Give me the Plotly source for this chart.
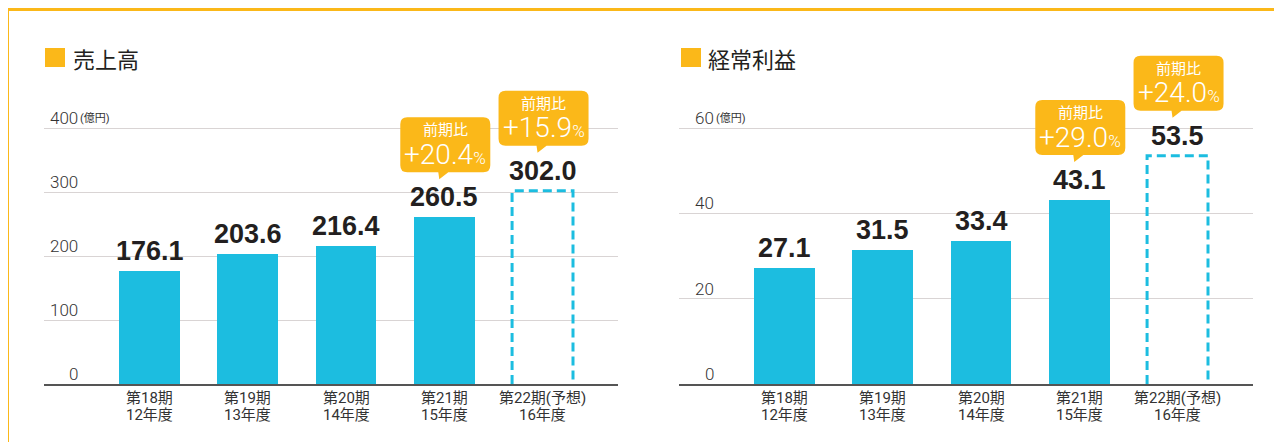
import plotly.graph_objects as go

# ---------------- data ----------------
periods = ["第18期", "第19期", "第20期", "第21期", "第22期(予想)"]
fiscal_years = ["12年度", "13年度", "14年度", "15年度", "16年度"]

sales = [176.1, 203.6, 216.4, 260.5, 302.0]          # 売上高 (億円)
ordinary_profit = [27.1, 31.5, 33.4, 43.1, 53.5]     # 経常利益 (億円)

sales_growth = {3: "+20.4", 4: "+15.9"}              # 前期比 %
profit_growth = {3: "+29.0", 4: "+24.0"}

sales_ticks = [0, 100, 200, 300, 400]
profit_ticks = [0, 20, 40, 60]

forecast_index = 4

# ---------------- style ----------------
W, H = 1282, 442
OFF = 8  # page body margin
BLUE = "#1cbde0"
YELLOW = "#fbb819"
DARK = "#231f20"
TXT = "#333333"
GRID = "#d9d4d4"
JP = "Roboto, 'Noto Sans CJK JP', sans-serif"
BOLD = "'Liberation Sans', Arial, sans-serif"
BAR_W = 0.62
XRANGE = [-1.074, 4.768]

# plot area: value 0 at pixel 384, top tick at pixel 128, domain extends to pixel 40
Y0_PX, YTOP_PX, YDOM_TOP_PX = 384, 128, 40


def px_x(p):
    return (p - OFF) / W


def px_y(p):
    return (H - (p - OFF)) / H


def y_range(top_tick):
    per_px = top_tick / (Y0_PX - YTOP_PX)
    return [0, top_tick + per_px * (YTOP_PX - YDOM_TOP_PX)]


fig = go.Figure()

panels = [
    dict(vals=sales, ticks=sales_ticks, growth=sales_growth, xa="x", ya="y",
         title="売上高", title_px=71, sq_px=45, tick_right=80),
    dict(vals=ordinary_profit, ticks=profit_ticks, growth=profit_growth, xa="x2", ya="y2",
         title="経常利益", title_px=706, sq_px=681, tick_right=716),
]

annotations = []
shapes = []

# outer yellow frame
shapes.append(dict(type="rect", xref="paper", yref="paper",
                   x0=px_x(7.5), x1=1.05, y0=-0.1, y1=px_y(9.5),
                   line=dict(color=YELLOW, width=3), fillcolor="rgba(0,0,0,0)", layer="below"))

for p in panels:
    vals = p["vals"]
    actual_x = [i for i in range(len(vals)) if i != forecast_index]
    actual_y = [vals[i] for i in actual_x]
    fig.add_trace(go.Bar(x=actual_x, y=actual_y, width=BAR_W, marker=dict(color=BLUE, line=dict(width=0)),
                         xaxis=p["xa"], yaxis=p["ya"], showlegend=False, hoverinfo="x+y"))
    # forecast bar: dashed outline
    fx = forecast_index
    fv = vals[fx]
    fig.add_trace(go.Scatter(x=[fx - BAR_W / 2, fx - BAR_W / 2, fx + BAR_W / 2, fx + BAR_W / 2],
                             y=[0, fv, fv, 0], mode="lines",
                             line=dict(color=BLUE, width=3, dash="9px,5px"),
                             xaxis=p["xa"], yaxis=p["ya"], showlegend=False, hoverinfo="skip"))

    # value labels
    for i, v in enumerate(vals):
        annotations.append(dict(x=i, y=v, xref=p["xa"], yref=p["ya"], text=f"{v:.1f}",
                                showarrow=False, yanchor="middle", xanchor="center", yshift=20,
                                font=dict(family=BOLD, size=27, color=DARK, weight="bold")))

    # growth callouts
    for i, g in p["growth"].items():
        v = vals[i]
        x0, x1, y0, y1, r = -44, 46, 45, 100, 7
        path = (f"M {x0 + r},{y1} L {x1 - r},{y1} Q {x1},{y1} {x1},{y1 - r} "
                f"L {x1},{y0 + r} Q {x1},{y0} {x1 - r},{y0} L 4,{y0} L -5,38 L -6,{y0} "
                f"L {x0 + r},{y0} Q {x0},{y0} {x0},{y0 + r} L {x0},{y1 - r} Q {x0},{y1} {x0 + r},{y1} Z")
        shapes.append(dict(type="path", xref=p["xa"], yref=p["ya"], xsizemode="pixel", ysizemode="pixel",
                           xanchor=i, yanchor=v, path=path, fillcolor=YELLOW, line=dict(width=0)))
        annotations.append(dict(x=i, y=v, xref=p["xa"], yref=p["ya"], text="前期比",
                                showarrow=False, yanchor="middle", xanchor="center", yshift=87, xshift=1,
                                font=dict(family=JP, size=15, color="white")))
        annotations.append(dict(x=i, y=v, xref=p["xa"], yref=p["ya"],
                                text=f"{g}<span style='font-size:17px'>%</span>",
                                showarrow=False, yanchor="middle", xanchor="center", yshift=63, xshift=1,
                                font=dict(family=JP, size=28, color="white", weight=300)))

    # y tick labels (left of plot, above gridlines)
    for t in p["ticks"]:
        annotations.append(dict(x=px_x(p["tick_right"]), y=t, xref="paper", yref=p["ya"], text=str(t),
                                showarrow=False, xanchor="right", yanchor="middle", yshift=10,
                                font=dict(family=JP, size=17, color=TXT, weight=300)))
    annotations.append(dict(x=px_x(p["tick_right"]), y=p["ticks"][-1], xref="paper", yref=p["ya"],
                            text="(億円)", showarrow=False, xanchor="left", yanchor="middle", yshift=9,
                            xshift=-2, font=dict(family=JP, size=11, color=TXT)))

    # x category labels (two lines)
    for i in range(len(vals)):
        annotations.append(dict(x=i, y=px_y(398), xref=p["xa"], yref="paper", text=periods[i],
                                showarrow=False, xanchor="center", yanchor="middle",
                                font=dict(family=JP, size=15, color=TXT)))
        annotations.append(dict(x=i, y=px_y(414.5), xref=p["xa"], yref="paper", text=fiscal_years[i],
                                showarrow=False, xanchor="center", yanchor="middle",
                                font=dict(family=JP, size=15, color=TXT)))

    # panel title with square marker
    shapes.append(dict(type="rect", xref="paper", yref="paper",
                       x0=px_x(p["sq_px"]), x1=px_x(p["sq_px"] + 20), y0=px_y(67), y1=px_y(48),
                       fillcolor=YELLOW, line=dict(width=0)))
    annotations.append(dict(x=px_x(p["title_px"]), y=px_y(57.5), xref="paper", yref="paper", text=p["title"],
                            showarrow=False, xanchor="left", yanchor="middle",
                            font=dict(family="'Noto Sans CJK JP', sans-serif", size=22, color=DARK)))

ydom = [px_y(Y0_PX), px_y(YDOM_TOP_PX)]
axis_common = dict(showgrid=False, zeroline=False, showticklabels=False, ticks="", fixedrange=True)

fig.update_layout(
    width=W, height=H,
    margin=dict(l=0, r=0, t=0, b=0),
    paper_bgcolor="white", plot_bgcolor="rgba(0,0,0,0)",
    bargap=0,
    xaxis=dict(domain=[px_x(44), px_x(618)], range=XRANGE, anchor="y",
               showline=True, linecolor="#555555", linewidth=2, **axis_common),
    yaxis=dict(domain=ydom, range=y_range(sales_ticks[-1]), anchor="x", showgrid=True, gridcolor=GRID,
               gridwidth=1, tickvals=sales_ticks, showticklabels=False, zeroline=False, ticks="",
               fixedrange=True),
    xaxis2=dict(domain=[px_x(679), px_x(1253)], range=XRANGE, anchor="y2",
                showline=True, linecolor="#555555", linewidth=2, **axis_common),
    yaxis2=dict(domain=ydom, range=y_range(profit_ticks[-1]), anchor="x2", showgrid=True, gridcolor=GRID,
                gridwidth=1, tickvals=profit_ticks, showticklabels=False, zeroline=False, ticks="",
                fixedrange=True),
    annotations=annotations,
    shapes=shapes,
)

fig.write_html("out.html")
